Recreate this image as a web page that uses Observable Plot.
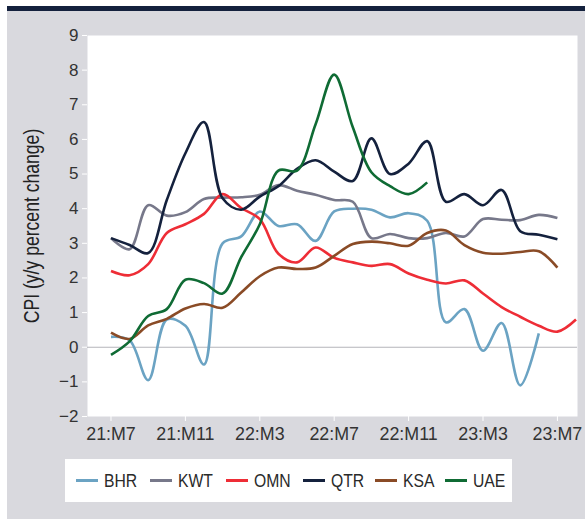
<!DOCTYPE html>
<html>
<head>
<meta charset="utf-8">
<script src="https://cdn.jsdelivr.net/npm/d3@7"></script>
<script src="https://cdn.jsdelivr.net/npm/@observablehq/plot@0.6"></script>
<style>
  html, body { margin: 0; padding: 0; background: #ffffff; }
  body { width: 585px; height: 519px; position: relative; overflow: hidden;
         font-family: "Liberation Sans", Arial, sans-serif; }
  #topbar { position: absolute; left: 7px; top: 6px; width: 578px; height: 5px; background: #14213d; }
  #panel { position: absolute; left: 7px; top: 11px; width: 578px; height: 508px; background: #d9d9de; }
  #chart { position: absolute; left: 0; top: 0; }
  #legend { position: absolute; left: 58px; top: 448px; width: 447px; height: 43px; background: #ffffff;
            font-size: 18.5px; color: #2a2a2a; }
  .item { position: absolute; top: 0; height: 43px; display: flex; align-items: center; }
  .sw { width: 22px; height: 3px; margin-right: 6px; }
  .tx { display: inline-block; transform: scaleX(0.85); transform-origin: left center; white-space: nowrap; }
</style>
</head>
<body>
<div id="topbar"></div>
<div id="panel">
  <div id="chart"></div>
  <div id="legend"></div>
</div>
<script>
const months = ["21:M7","21:M8","21:M9","21:M10","21:M11","21:M12","22:M1","22:M2","22:M3","22:M4","22:M5","22:M6",
                "22:M7","22:M8","22:M9","22:M10","22:M11","22:M12","23:M1","23:M2","23:M3","23:M4","23:M5","23:M6","23:M7","23:M8"];
const xTickLabels = ["21:M7","21:M11","22:M3","22:M7","22:M11","23:M3","23:M7"];
const yTicks = [-2,-1,0,1,2,3,4,5,6,7,8,9];
const yLabel = "CPI (y/y percent change)";
const countries = ["BHR","KWT","OMN","QTR","KSA","UAE"];
const colors = ["#6ba3c3","#77788a","#ee2d36","#14213d","#8a4b26","#0f6b34"];

const BHR = [0.30, 0.2, -0.95, 0.8, 0.62, -0.5, 3.0, 3.2, 3.92, 3.5, 3.55, 3.07, 3.92, 4.0, 3.97, 3.75, 3.87, 3.65, 0.72, 1.1, -0.1, 0.7, -1.1, 0.4];
const KWT = [3.15, 2.83, 4.1, 3.8, 3.9, 4.28, 4.32, 4.33, 4.4, 4.68, 4.52, 4.4, 4.25, 4.2, 3.15, 3.27, 3.15, 3.15, 3.3, 3.2, 3.7, 3.68, 3.67, 3.82, 3.73];
const OMN = [2.2, 2.08, 2.4, 3.3, 3.55, 3.85, 4.42, 4.02, 3.7, 2.7, 2.45, 2.88, 2.58, 2.45, 2.35, 2.4, 2.13, 1.95, 1.84, 1.93, 1.55, 1.16, 0.88, 0.62, 0.45, 0.8];
const QTR = [3.15, 2.95, 2.72, 4.25, 5.6, 6.5, 4.3, 3.97, 4.35, 4.65, 5.15, 5.4, 5.07, 4.8, 6.03, 5.0, 5.3, 5.95, 4.2, 4.42, 4.1, 4.54, 3.35, 3.25, 3.12];
const KSA = [0.42, 0.24, 0.63, 0.82, 1.12, 1.25, 1.14, 1.58, 2.05, 2.3, 2.26, 2.3, 2.64, 2.98, 3.05, 3.0, 2.93, 3.3, 3.37, 2.95, 2.73, 2.7, 2.75, 2.77, 2.3];
const UAE = [-0.22, 0.17, 0.9, 1.1, 1.95, 1.85, 1.55, 2.6, 3.55, 5.1, 5.1, 6.44, 7.87, 6.35, 5.05, 4.65, 4.42, 4.76];

const seriesValues = [BHR, KWT, OMN, QTR, KSA, UAE];
const rows = [];
countries.forEach((c, k) => seriesValues[k].forEach((v, i) => rows.push({country: c, i, v})));

const fontStack = '"Liberation Sans", Arial, sans-serif';

const chart = Plot.plot({
  width: 578,
  height: 440,
  marginLeft: 80,
  marginRight: 8,
  marginTop: 24,
  marginBottom: 35,
  style: {background: "transparent", fontFamily: fontStack, fontSize: "17px", overflow: "visible"},
  x: {type: "linear", domain: [-1.263, 25.08]},
  y: {domain: [-2, 9]},
  color: {domain: countries, range: colors},
  marks: [
    Plot.frame({fill: "white", stroke: "none"}),
    Plot.ruleY([0], {stroke: "#b5b5ba", strokeWidth: 1.2}),
    Plot.axisY({ticks: yTicks, tickSize: 5, tickPadding: 4, stroke: "white", fill: "#333", fontSize: 17, label: null,
                tickFormat: d => d < 0 ? "\u2212" + Math.abs(d) : String(d)}),
    Plot.axisX({ticks: xTickLabels.map(l => months.indexOf(l)), tickFormat: i => months[i], tickSize: 5, tickPadding: 5,
                stroke: "white", fill: "#333", fontSize: 19, label: null}),
    Plot.text([yLabel], {frameAnchor: "left", dx: -56, rotate: -90, fontSize: 22, fill: "#222",
                textAnchor: "middle", lineAnchor: "middle"}),
    Plot.line(rows, {x: "i", y: "v", z: "country", stroke: "country", curve: "catmull-rom", strokeWidth: 2.6,
                strokeLinejoin: "round", strokeLinecap: "butt"})
  ]
});

// condense text horizontally to mimic the narrow typeface of the original
function condense(nodes, s) {
  nodes.each(function () {
    const t = this.getAttribute("transform");
    if (t && t.includes("translate")) {
      this.setAttribute("transform", t + ` scale(${s},1)`);
    } else {
      const x = +(this.getAttribute("x") || 0), y = +(this.getAttribute("y") || 0);
      this.removeAttribute("x"); this.removeAttribute("y");
      this.setAttribute("transform", `translate(${x},${y})` + (t ? " " + t : "") + ` scale(${s},1)`);
    }
  });
}
condense(d3.select(chart).selectAll('g[aria-label="x-axis tick label"] text'), 0.94);
condense(d3.select(chart).selectAll("text").filter(function () { return this.textContent === yLabel; }), 0.8);

document.getElementById("chart").appendChild(chart);

const legendLefts = [11, 85, 161, 238, 310, 380];
const legend = document.getElementById("legend");
countries.forEach((c, k) => {
  const it = document.createElement("div");
  it.className = "item";
  it.style.left = legendLefts[k] + "px";
  const sw = document.createElement("span");
  sw.className = "sw";
  sw.style.background = colors[k];
  const tx = document.createElement("span");
  tx.className = "tx";
  tx.textContent = c;
  it.appendChild(sw);
  it.appendChild(tx);
  legend.appendChild(it);
});
</script>
</body>
</html>
